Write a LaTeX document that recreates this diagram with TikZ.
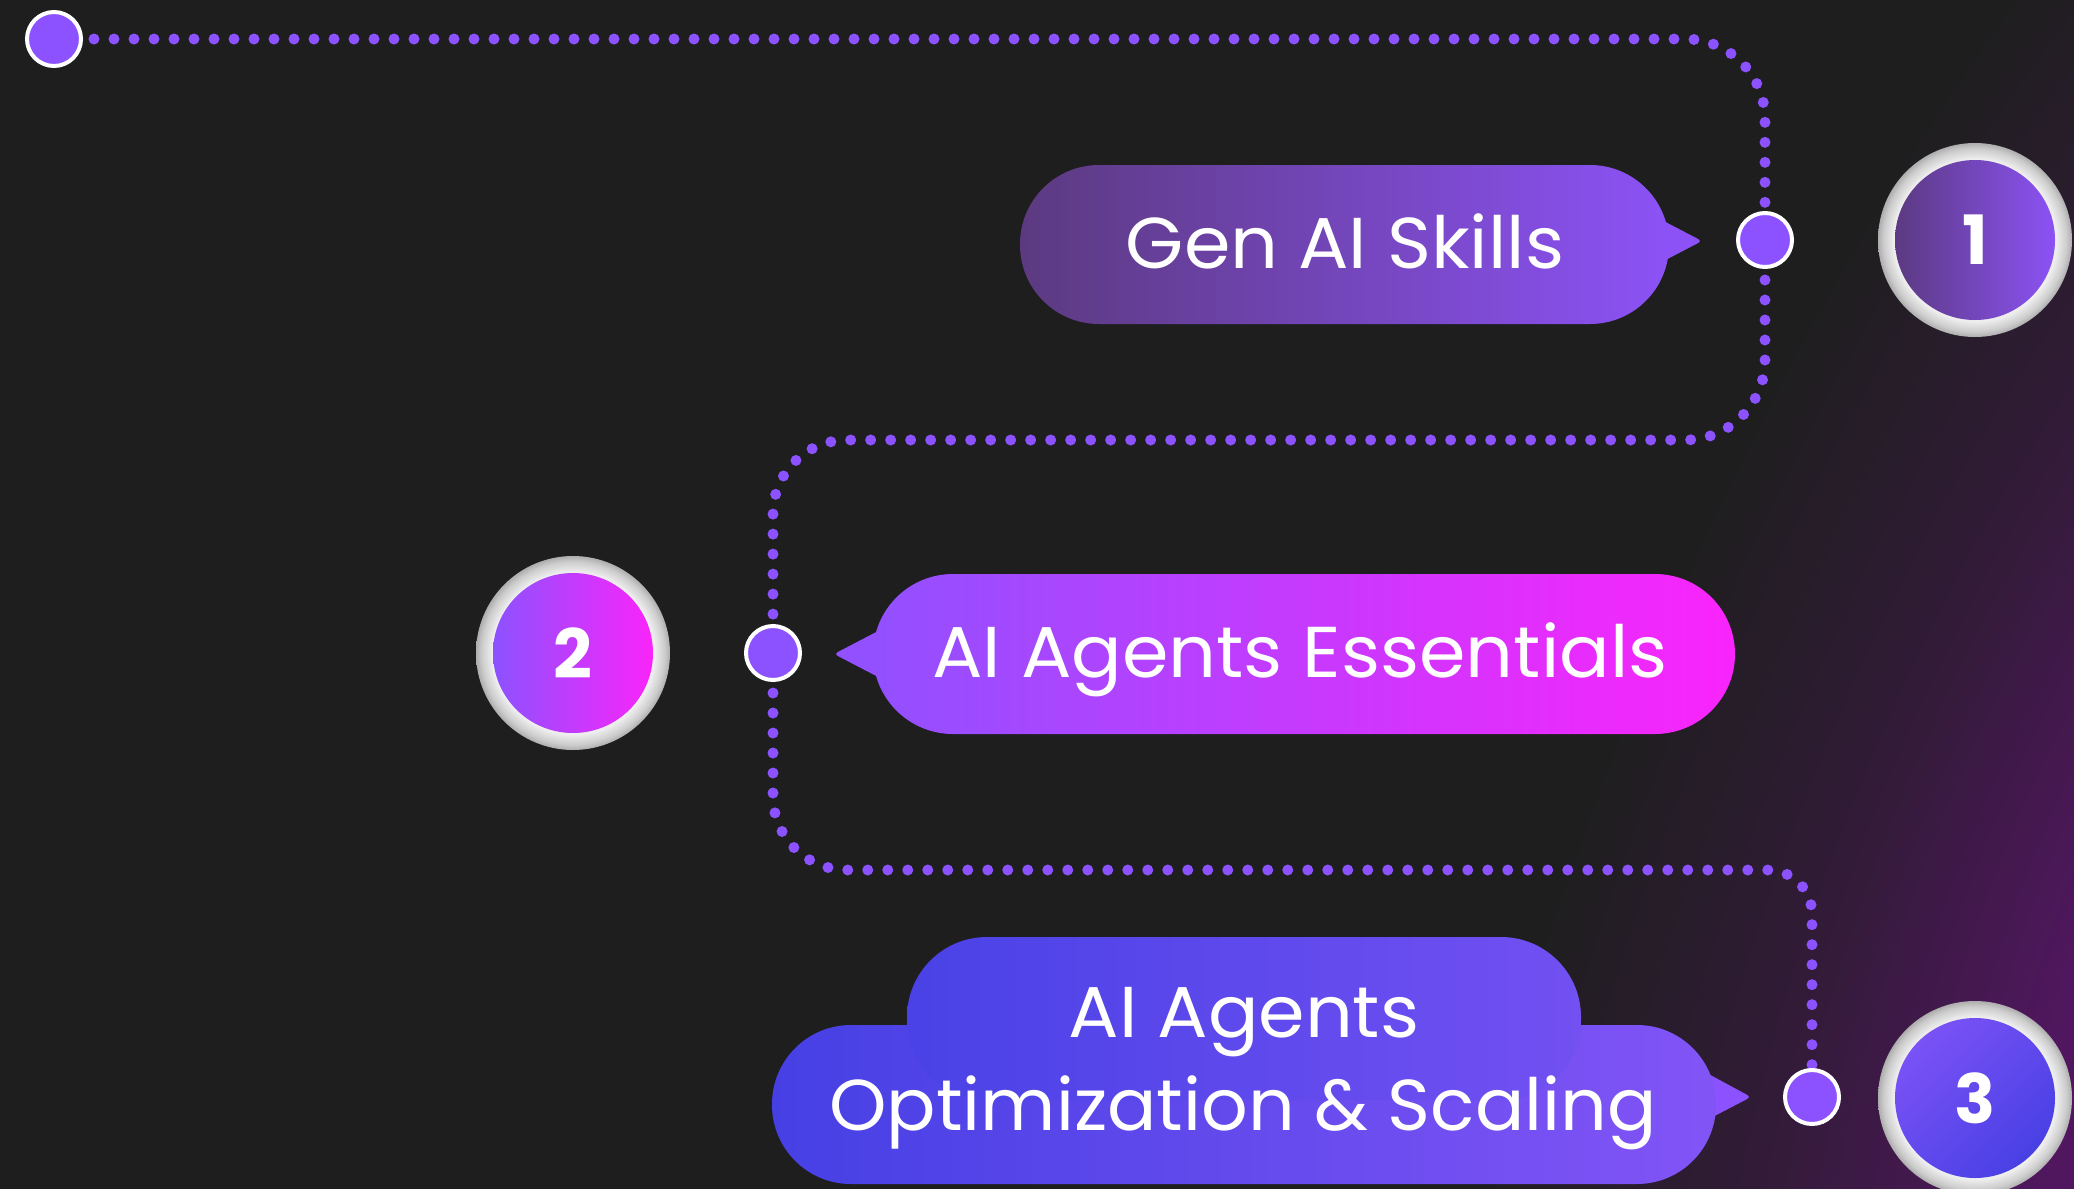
\documentclass[tikz,border=0pt]{standalone}
\usepackage{fontspec}
\setmainfont{Poppins}
\newfontfamily\lblfont{Poppins}[FakeStretch=1.04]
\newfontfamily\lblfontn{Poppins}[FakeStretch=1.015]
\definecolor{bgc}{RGB}{30,30,30}
\definecolor{glow}{RGB}{86,22,102}
\definecolor{dotc}{RGB}{140,82,255}
\definecolor{bA}{RGB}{92,58,128}
\definecolor{bB}{RGB}{140,82,246}
\definecolor{cA}{RGB}{146,80,255}
\definecolor{cB}{RGB}{250,36,252}
\definecolor{dA}{RGB}{70,64,228}
\definecolor{dB}{RGB}{130,84,246}
\definecolor{dTa}{RGB}{74,66,230}
\definecolor{dTb}{RGB}{114,80,242}
\definecolor{nA}{RGB}{92,58,130}
\definecolor{nB}{RGB}{140,82,245}
\definecolor{mA}{RGB}{140,82,255}
\definecolor{mB}{RGB}{250,36,250}
\definecolor{oA}{RGB}{122,82,246}
\definecolor{oB}{RGB}{72,64,228}
\pgfdeclareradialshading{ringshade}{\pgfpoint{0bp}{0bp}}{%
  color(0bp)=(black!8); color(20.5bp)=(black!8); color(20.8bp)=(black!6);
  color(22bp)=(black!12); color(23.6bp)=(black!20); color(25bp)=(black!32); color(50bp)=(black!32)}
\pgfdeclareradialshading{glowshade}{\pgfpoint{0bp}{0bp}}{%
  color(0bp)=(glow); color(6bp)=(glow!88!bgc); color(15bp)=(glow!35!bgc); color(25bp)=(bgc); color(50bp)=(bgc)}
\pgfdeclarelayer{bglayer}
\pgfdeclarelayer{linelayer}
\pgfsetlayers{bglayer,linelayer,main}
\tikzset{
  dotnode/.style={circle, fill=dotc, draw=white, line width=2pt, minimum size=27pt, inner sep=0pt},
  dotline/.style={draw=dotc, line width=5.5pt, line cap=round, dash pattern=on 0pt off 10pt},
  lbl/.style={text=white, font=\lblfont\fontsize{36pt}{42pt}\selectfont, inner sep=0pt, anchor=base},
  numnode/.style={circle, minimum size=40pt*2, inner sep=0pt, text=white, font=\bfseries\fontsize{34pt}{34pt}\selectfont},
  ring/.style={shading=ringshade},
  tipshape/.style={rounded corners=2pt}
}
\begin{document}
\begin{tikzpicture}[x=0.5pt, y=-0.5pt]
\useasboundingbox (0,0) rectangle (2074,1189);
\begin{pgfonlayer}{bglayer}
  \fill[bgc] (0,0) rectangle (2074,1189);
  \begin{scope}
    \clip (0,0) rectangle (2074,1189);
    \begin{scope}[transform canvas={shift={(2250,950)}, rotate=-22}]
      \shade[shading=glowshade] (0,0) ellipse [x radius=680, y radius=1600];
    \end{scope}
  \end{scope}
\end{pgfonlayer}

% dots
\node[dotnode] (dot0) at (54,39) {};
\node[dotnode] (dot1) at (1765,240) {};
\node[dotnode] (dot2) at (773,653) {};
\node[dotnode] (dot3) at (1812,1097) {};
\coordinate (c12) at (1200,440);
\coordinate (c23) at (1200,870);

\begin{pgfonlayer}{linelayer}
  \draw[dotline, rounded corners=40pt] (dot0.center) -| (dot1.center);
  \draw[dotline, rounded corners=40pt] (dot1.center) |- (c12) [rounded corners=37pt] -| (dot2.center);
  \draw[dotline, rounded corners=37pt] (dot2.center) |- (c23) [rounded corners=22pt] -| (dot3.center);
\end{pgfonlayer}

% bubble 1
\fill[bB, tipshape] (1656,217) -- (1702,241) -- (1656,265) -- cycle;
\shade[left color=bA, right color=bB, rounded corners=39.5pt] (1020,165) rectangle (1669,324);
\node[lbl] (t1) at (1345,268) {Gen AI Skills};

% bubble 2
\fill[cA, tipshape] (882,629) -- (834,654) -- (882,679) -- cycle;
\shade[left color=cA, right color=cB, rounded corners=40pt] (873,574) rectangle (1735,734);
\node[lbl] (t2) at (1300,677) {AI Agents Essentials};

% bubble 3
\fill[dotc, tipshape] (1703,1071) -- (1751,1097) -- (1703,1122) -- cycle;
\shade[left color=dA, right color=dB, rounded corners=39.5pt] (772,1025) rectangle (1716,1184);
\shade[left color=dTa, right color=dTb, rounded corners=40pt] (907,937) rectangle (1581,1100);
\node[lbl] (t3a) at (1244,1037) {AI Agents};
\node[lbl, font=\lblfontn\fontsize{36pt}{42pt}\selectfont] (t3b) at (1243,1130) {Optimization \& Scaling};

% number circles
\path[ring] (1975,240) circle [radius=97];
\node[numnode, left color=nA, right color=nB] (n1) at (1975,240) {1};
\path[ring] (573,653) circle [radius=97];
\node[numnode, left color=mA, right color=mB] (n2) at (573,653) {2};
\path[ring] (1975,1098) circle [radius=97];
\node[numnode, top color=oA, bottom color=oB, shading angle=45] (n3) at (1975,1098) {3};
\end{tikzpicture}
\end{document}
